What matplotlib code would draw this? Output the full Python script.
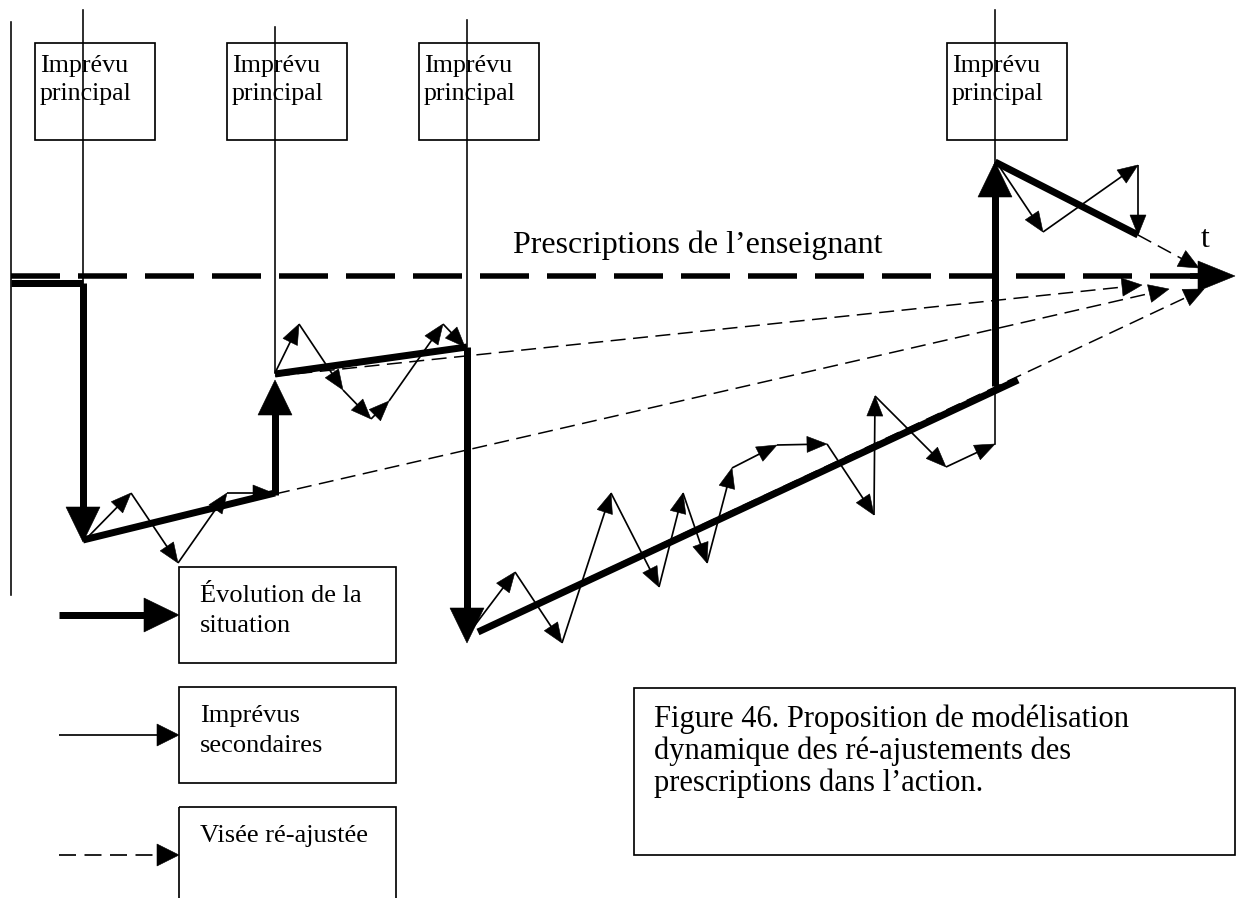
import numpy as np
import matplotlib
matplotlib.use("Agg")
import matplotlib.pyplot as plt
from matplotlib.patches import Polygon, Rectangle

# diagram geometry, in pixels of the 1237x898 picture (y grows downwards)
imprevu_x = [83, 275, 467, 995]
imprevu_top = [10, 27, 20, 10]
imprevu_bottom = [540, 373, 347, 444]
imprevu_box_left = [35, 227, 419, 947]
imprevu_label = "Imprévu\nprincipal"

# thick path "évolution de la situation": (start, end, with arrow head)
evolution = [
    ((11, 283), (83, 283), False),
    ((83, 283), (83, 542), True),
    ((83, 540), (275, 493), False),
    ((275, 495), (275, 380), True),
    ((275, 374), (467, 347), False),
    ((467, 347), (467, 643), True),
    ((478, 632), (1018, 380), False),
    ((995, 386), (995, 162), True),
    ((995, 162), (1138, 235), False),
]

# thin arrows "imprévus secondaires"
secondaires = [
    [(85, 540), (131, 493), (178, 563), (227, 493), (273, 493)],
    [(275, 373), (299, 324), (343, 390), (371, 419), (389, 401), (443, 324), (465, 347)],
    [(469, 633), (515, 572), (562, 643), (611, 493), (659, 587), (683, 493),
     (707, 563), (732, 468), (777, 445), (827, 444), (874, 515), (875, 396),
     (946, 467), (995, 444)],
    [(997, 163), (1043, 232), (1138, 165), (1138, 235)],
]

# dashed arrows "visée ré-ajustée"
visees = [
    ((275, 376), (1142, 285)),
    ((275, 494), (1169, 289)),
    ((478, 630), (1204, 289)),
    ((1138, 235), (1199, 268)),
]

prescription_y = 276
prescription_x = (11, 1235)

legend_labels = ["Évolution de la\nsituation", "Imprévus\nsecondaires", "Visée ré-ajustée"]
legend_top = [567, 687, 807]
caption = ("Figure 46. Proposition de modélisation\n"
           "dynamique des ré-ajustements des\n"
           "prescriptions dans l’action.")

FONT = "Liberation Serif"
PX = 72 / 100  # points per pixel at dpi 100


def arrow(ax, p0, p1, lw, hl, hw, ls="-", head=True):
    p0 = np.array(p0, float)
    p1 = np.array(p1, float)
    d = p1 - p0
    u = d / np.hypot(*d)
    n = np.array([-u[1], u[0]])
    end = p1 - u * hl * 0.8 if head else p1
    ax.plot([p0[0], end[0]], [p0[1], end[1]], color="black", lw=lw * PX,
            ls=ls, solid_capstyle="butt", dash_capstyle="butt")
    if head:
        base = p1 - u * hl
        ax.add_patch(Polygon([p1, base + n * hw, base - n * hw], closed=True,
                             fc="black", ec="black", lw=0.4))


def lines_text(ax, x, y0, text, size, step):
    for i, line in enumerate(text.split("\n")):
        ax.text(x, y0 + i * step, line, fontsize=size, family=FONT,
                va="baseline", ha="left", color="black")


fig = plt.figure(figsize=(12.37, 8.98), dpi=100)
ax = fig.add_axes([0, 0, 1, 1])
ax.set_xlim(0, 1237)
ax.set_ylim(898, 0)
ax.axis("off")

# left border line
ax.plot([11, 11], [22, 595], color="black", lw=1.6 * PX)

# main unexpected events: vertical lines + boxes
for x, t, b, bl in zip(imprevu_x, imprevu_top, imprevu_bottom, imprevu_box_left):
    ax.plot([x, x], [t, b], color="black", lw=1.6 * PX, zorder=3)
    ax.add_patch(Rectangle((bl, 43), 120, 97, fill=False, ec="black", lw=1.7 * PX))
    lines_text(ax, bl + 5, 72, imprevu_label, 18.7, 28)

# teacher prescriptions
ax.plot([prescription_x[0], 1198], [prescription_y] * 2, color="black", lw=5.5 * PX,
        ls=(0, (49 / 5.5, 18 / 5.5)), dash_capstyle="butt")
arrow(ax, (1190, prescription_y), (prescription_x[1], prescription_y), 5.5, 37, 15)
ax.text(513, 253, "Prescriptions de l’enseignant", fontsize=23, family=FONT, va="baseline")
ax.text(1201, 247, "t", fontsize=23, family=FONT, va="baseline")

# re-adjusted aims
for p0, p1 in visees:
    arrow(ax, p0, p1, 1.5, 20, 9, ls=(0, (10, 5)))

# secondary events
for pts in secondaires:
    for a, b in zip(pts[:-1], pts[1:]):
        arrow(ax, a, b, 1.7, 20, 8)

# evolution of the situation
for p0, p1, head in evolution:
    arrow(ax, p0, p1, 7, 35, 17, head=head)

# legend
for top, label in zip(legend_top, legend_labels):
    ax.add_patch(Rectangle((179, top), 217, 96 if top < 800 else 120, fill=False,
                           ec="black", lw=1.7 * PX, clip_on=True))
    lines_text(ax, 200, top + 35, label, 19, 30)
arrow(ax, (59, 615), (179, 615), 7, 35, 17)
arrow(ax, (59, 735), (179, 735), 1.7, 22, 11)
arrow(ax, (59, 855), (179, 855), 1.7, 22, 11, ls=(0, (10, 5)))

# caption box
ax.add_patch(Rectangle((634, 688), 601, 167, fill=False, ec="black", lw=1.7 * PX))
lines_text(ax, 654, 727, caption, 22, 32)

fig.savefig("out.png", dpi=100)
